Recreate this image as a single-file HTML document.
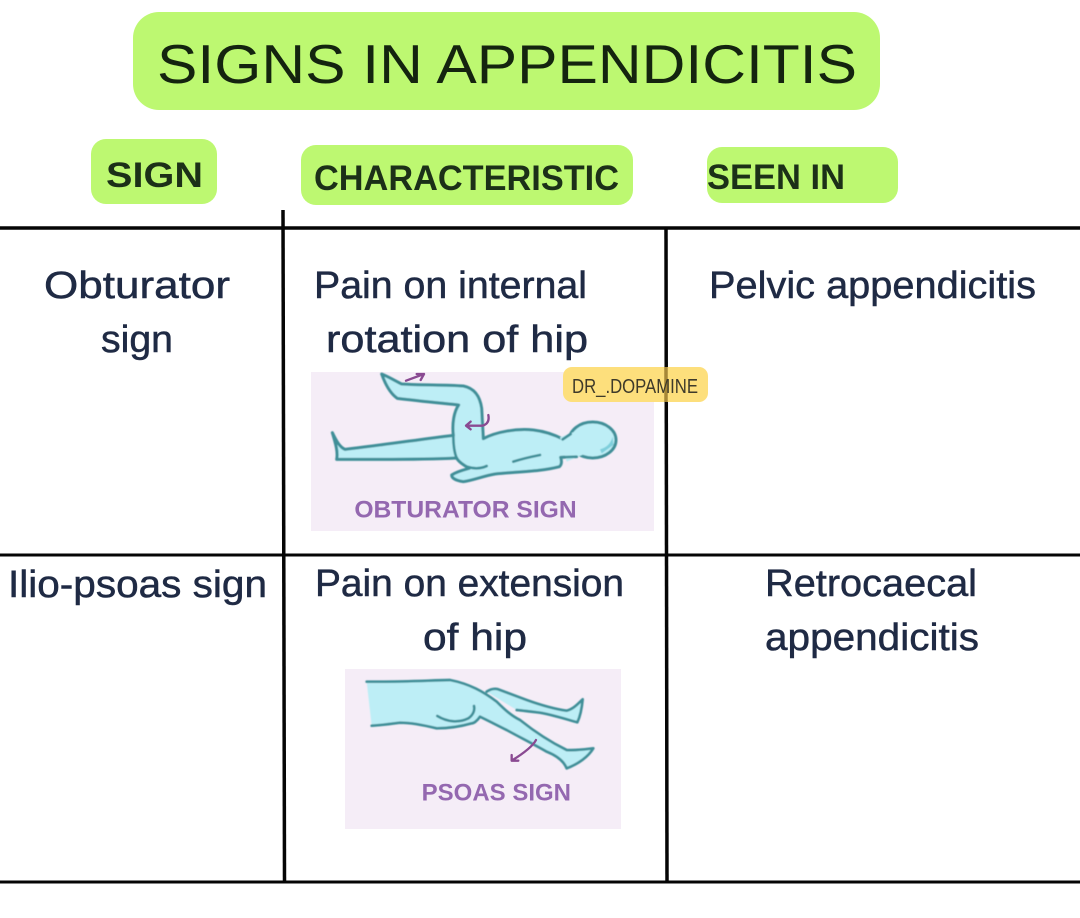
<!DOCTYPE html>
<html>
<head>
<meta charset="utf-8">
<style>
html,body{margin:0;padding:0;background:#fff;width:1080px;height:918px;overflow:hidden}
svg{display:block}
text{font-family:"Liberation Sans",sans-serif}
.c{font-size:38px;fill:#1f2a44;stroke:#1f2a44;stroke-width:.5px}
.h{font-size:35px;font-weight:bold;fill:#1c3018}
.b{fill:#bdeef6;stroke:#3f8f98;stroke-width:9;stroke-linejoin:round;stroke-linecap:round}
.l{fill:none;stroke:#3f8f98;stroke-width:8;stroke-linejoin:round;stroke-linecap:round}
.a{fill:none;stroke:#8a4a92;stroke-width:7;stroke-linecap:round;stroke-linejoin:round}
.p{font-weight:bold;fill:#9468b0}
</style>
</head>
<body>
<svg width="1080" height="918" viewBox="0 0 1080 918" xmlns="http://www.w3.org/2000/svg">
<defs><filter id="s" x="-5%" y="-5%" width="110%" height="110%"><feGaussianBlur stdDeviation="1.500"/></filter></defs>
<rect width="1080" height="918" fill="#fff"/>

<!-- Title -->
<rect x="133" y="12" width="747" height="98" rx="26" fill="#bdf871"/>
<text x="157" y="83" font-size="55" fill="#14240f" textLength="700" lengthAdjust="spacingAndGlyphs">SIGNS IN APPENDICITIS</text>

<!-- Headers -->
<rect x="91" y="139" width="126" height="65" rx="15" fill="#bdf871"/>
<rect x="301" y="145" width="332" height="60" rx="15" fill="#bdf871"/>
<rect x="707" y="147" width="191" height="56" rx="15" fill="#bdf871"/>
<text class="h" x="106" y="187" textLength="97" lengthAdjust="spacingAndGlyphs">SIGN</text>
<text class="h" x="314" y="190" textLength="305" lengthAdjust="spacingAndGlyphs">CHARACTERISTIC</text>
<text class="h" x="707" y="189" textLength="138" lengthAdjust="spacingAndGlyphs">SEEN IN</text>

<!-- Images backgrounds -->
<rect x="311" y="372" width="343" height="159" fill="#f5edf7"/>
<rect x="345" y="669" width="276" height="160" fill="#f5edf7"/>

<!-- Grid -->
<g stroke="#050505" fill="none">
<line x1="0" y1="228" x2="1080" y2="228" stroke-width="3.500"/>
<line x1="0" y1="555" x2="1080" y2="555" stroke-width="3"/>
<line x1="0" y1="882" x2="1080" y2="882" stroke-width="3"/>
<line x1="283" y1="210" x2="284.500" y2="882" stroke-width="3.500"/>
<line x1="666" y1="228" x2="667" y2="882" stroke-width="3.500"/>
</g>

<!-- Cell text -->
<text class="c" x="44" y="298" textLength="186" lengthAdjust="spacingAndGlyphs">Obturator</text>
<text class="c" x="101" y="352" textLength="72" lengthAdjust="spacingAndGlyphs">sign</text>
<text class="c" x="314" y="298" textLength="273" lengthAdjust="spacingAndGlyphs">Pain on internal</text>
<text class="c" x="326" y="352" textLength="262" lengthAdjust="spacingAndGlyphs">rotation of hip</text>
<text class="c" x="709" y="298" textLength="327" lengthAdjust="spacingAndGlyphs">Pelvic appendicitis</text>
<text class="c" x="8" y="597" textLength="259" lengthAdjust="spacingAndGlyphs">Ilio-psoas sign</text>
<text class="c" x="315" y="596" textLength="309" lengthAdjust="spacingAndGlyphs">Pain on extension</text>
<text class="c" x="423" y="650" textLength="104" lengthAdjust="spacingAndGlyphs">of hip</text>
<text class="c" x="765" y="596" textLength="212" lengthAdjust="spacingAndGlyphs">Retrocaecal</text>
<text class="c" x="765" y="650" textLength="214" lengthAdjust="spacingAndGlyphs">appendicitis</text>

<!-- Obturator figure -->
<g transform="translate(300,360) scale(0.33333)">
<g filter="url(#s)">
<ellipse class="b" cx="878" cy="240" rx="70" ry="54"/>
<path class="b" d="M97 218 C110 245 120 262 135 268 C250 255 360 238 460 226 C456 190 462 155 476 135 C410 128 350 122 292 115 C270 100 255 70 245 42 C265 50 285 62 305 72 C370 76 430 74 490 78 C525 85 540 110 545 145 L550 236 C590 215 650 205 700 210 C735 214 765 225 790 238 L830 290 L782 292 C786 305 784 315 778 320 C720 335 650 335 585 342 C550 348 515 362 490 365 C470 362 455 355 455 345 C470 335 490 330 508 325 C490 315 475 305 470 294 C350 300 230 298 110 298 C115 275 105 245 97 218 Z"/>
<path d="M780 232 L850 205 L870 275 L800 305 Z" fill="#bdeef6"/>
<path class="l" d="M460 226 C460 255 464 280 470 294 M640 305 C670 295 695 290 720 285 M500 320 C525 328 545 325 560 318 M788 238 L812 222 M782 292 L830 290"/>
<path d="M900 268 Q930 260 938 230 L940 255 L905 280 Z" fill="#7fcfdc"/>
</g>
<path class="a" d="M318 62 L372 42 M350 42 L372 42 L362 60"/>
<path class="a" d="M498 197 L548 197 Q570 190 565 165 M512 185 L498 197 L512 208"/>
<text class="p" x="163" y="472" font-size="72" textLength="667" lengthAdjust="spacingAndGlyphs">OBTURATOR SIGN</text>
</g>

<!-- Psoas figure -->
<g transform="translate(340,660) scale(0.33333)">
<g filter="url(#s)">
<path d="M440 95 C455 85 465 85 475 88 L560 120 C610 138 650 148 680 152 L728 118 C725 150 720 170 712 187 C670 175 640 165 600 158 L530 150 Z" fill="#bdeef6"/>
<path class="l" d="M440 95 C455 85 465 85 475 88 L560 120 C610 138 650 148 680 152 C700 148 715 130 728 118 C725 150 720 170 712 187 C670 175 640 165 600 158 C575 155 550 152 530 150"/>
<path d="M80 65 C170 66 250 62 330 60 C390 72 430 95 470 125 C495 150 515 168 540 180 C590 220 635 248 680 270 C710 272 735 268 760 265 C745 290 715 312 680 325 C670 300 645 285 620 275 C580 252 540 232 500 210 C470 195 445 182 420 170 C410 185 400 190 395 190 C360 200 325 205 290 205 C250 195 215 188 180 188 C150 192 120 196 95 197 Z" fill="#bdeef6"/>
<path class="l" d="M80 65 C170 66 250 62 330 60 C390 72 430 95 470 125 C495 150 515 168 540 180 C590 220 635 248 680 270 C710 272 735 268 760 265 C745 290 715 312 680 325 C670 300 645 285 620 275 C580 252 540 232 500 210 C470 195 445 182 420 170 C410 185 400 190 395 190 C360 200 325 205 290 205 C250 195 215 188 180 188 C150 192 120 196 95 197"/>
<path class="l" d="M292 168 C320 185 355 190 385 175 C400 165 405 150 402 138"/>
</g>
<path class="a" d="M588 240 Q575 265 515 302 M515 285 L515 302 L535 302"/>
<text class="p" x="245" y="422" font-size="72" textLength="448" lengthAdjust="spacingAndGlyphs">PSOAS SIGN</text>
</g>

<!-- Watermark -->
<rect x="563" y="367" width="145" height="35" rx="9" fill="#fddf7c"/>
<line x1="666" y1="367" x2="666" y2="402" stroke="#8a6a20" stroke-width="3.500" opacity="0.75"/>
<text x="572" y="393" font-size="20" fill="#3e3a2a" textLength="126" lengthAdjust="spacingAndGlyphs">DR_.DOPAMINE</text>
</svg>
</body>
</html>
